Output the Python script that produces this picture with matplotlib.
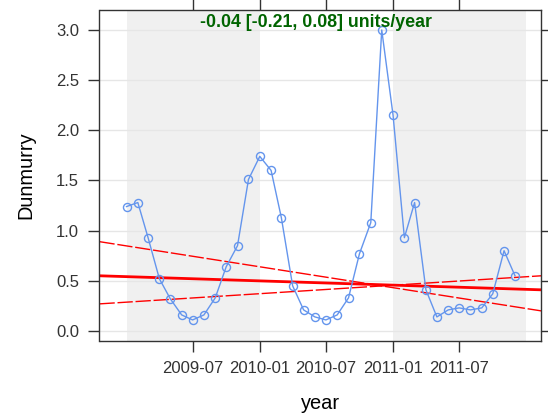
import matplotlib
matplotlib.use("Agg")
import matplotlib.pyplot as plt
import matplotlib.dates as mdates
import numpy as np
import datetime as dt

# ---- data ----
months = [dt.date(2009 + i // 12, i % 12 + 1, 1) for i in range(36)]
values = [1.24, 1.28, 0.93, 0.52, 0.32, 0.16, 0.11, 0.16, 0.33, 0.64, 0.85, 1.51,
          1.74, 1.60, 1.13, 0.45, 0.21, 0.14, 0.11, 0.16, 0.33, 0.77, 1.08, 3.00,
          2.15, 0.93, 1.28, 0.41, 0.14, 0.21, 0.23, 0.21, 0.23, 0.37, 0.80, 0.55]
trend_dates = [dt.date(2008, 10, 19), dt.date(2012, 2, 11)]
trend_mid = [0.55, 0.41]
trend_upper = [0.89, 0.20]
trend_lower = [0.27, 0.55]
shade_years = [2009, 2011]
xtick_dates = [dt.date(2009, 7, 1), dt.date(2010, 1, 1), dt.date(2010, 7, 1),
               dt.date(2011, 1, 1), dt.date(2011, 7, 1)]
yticks = [0.0, 0.5, 1.0, 1.5, 2.0, 2.5, 3.0]
title_text = "-0.04 [-0.21, 0.08] units/year"

plt.rcParams['font.family'] = ['Liberation Sans', 'DejaVu Sans']

W, H = 548, 419
fig = plt.figure(figsize=(W / 100, H / 100), dpi=100)
ax = fig.add_axes([99.5 / W, (H - 340.7) / H, (541.3 - 99.5) / W, (340.7 - 10.3) / H])

ax.set_xlim(trend_dates[0], trend_dates[1])
ax.set_ylim(-0.097, 3.196)

for yr in shade_years:
    ax.axvspan(dt.date(yr, 1, 1), dt.date(yr + 1, 1, 1), color='#F0F0F0', lw=0, zorder=0)

for yv in yticks:
    ax.axhline(yv, color='#E6E6E6', lw=1, zorder=0.5)

ax.plot(trend_dates, trend_mid, color='red', lw=2, zorder=2)
ax.plot(trend_dates, trend_upper, color='red', lw=1, dashes=(11, 2), zorder=2)
ax.plot(trend_dates, trend_lower, color='red', lw=1, dashes=(11, 2), zorder=2)

ax.plot(months, values, color='#6495ED', lw=1, marker='o', markersize=5.8,
        markerfacecolor='none', markeredgecolor='#6495ED', markeredgewidth=1, zorder=3)

ax.set_xticks(xtick_dates)
ax.xaxis.set_major_formatter(mdates.DateFormatter('%Y-%m'))
ax.set_yticks(yticks)
ax.set_yticklabels([f"{v:.1f}" for v in yticks])

ax.tick_params(axis='both', direction='out', length=7.8, width=1, color='#333333',
               labelsize=12, labelcolor='#333333', pad=7,
               top=True, right=True, labeltop=False, labelright=False)
for s in ax.spines.values():
    s.set_color('#333333')
    s.set_linewidth(1)

ax.set_xlabel('year', fontsize=14.4, labelpad=13)
ax.set_ylabel('Dunmurry', fontsize=14.4, labelpad=15)

ax.text(0.49, 0.963, title_text, transform=ax.transAxes, ha='center', va='center',
        fontsize=12.8, fontweight='bold', color='#006400', zorder=5)

fig.savefig('out.png', dpi=100)
